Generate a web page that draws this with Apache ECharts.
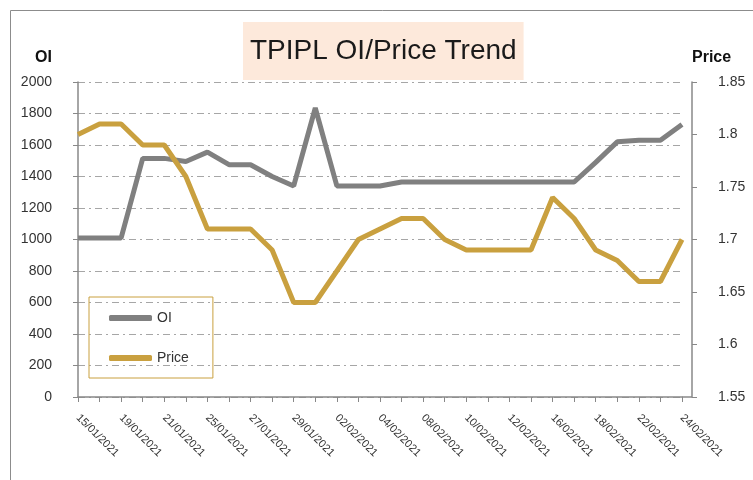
<!DOCTYPE html>
<html>
<head>
<meta charset="utf-8">
<script src="https://cdn.jsdelivr.net/npm/echarts@6/dist/echarts.min.js"></script>
<style>
  html, body { margin: 0; padding: 0; background: #fff; }
  #panel { width: 753px; height: 480px; }
</style>
</head>
<body>
<div id="panel"></div>
<script>
  // trading days
  var dates = [
    "15/01/2021", "18/01/2021", "19/01/2021", "20/01/2021", "21/01/2021", "22/01/2021",
    "25/01/2021", "26/01/2021", "27/01/2021", "28/01/2021", "29/01/2021",
    "01/02/2021", "02/02/2021", "03/02/2021", "04/02/2021", "05/02/2021",
    "08/02/2021", "09/02/2021", "10/02/2021", "11/02/2021", "12/02/2021",
    "15/02/2021", "16/02/2021", "17/02/2021", "18/02/2021", "19/02/2021",
    "22/02/2021", "23/02/2021", "24/02/2021"
  ];
  var oiValues = [
    1010, 1010, 1010, 1515, 1515, 1495, 1555, 1475, 1475, 1400, 1340,
    1835, 1340, 1340, 1340, 1365, 1365, 1365, 1365, 1365, 1365,
    1365, 1365, 1365, 1490, 1620, 1630, 1630, 1730
  ];
  var priceValues = [
    1.80, 1.81, 1.81, 1.79, 1.79, 1.76, 1.71, 1.71, 1.71, 1.69, 1.64,
    1.64, 1.67, 1.70, 1.71, 1.72, 1.72, 1.70, 1.69, 1.69, 1.69,
    1.69, 1.74, 1.72, 1.69, 1.68, 1.66, 1.66, 1.70
  ];

  var panel = echarts.init(document.getElementById("panel"));
  var gridLine = { color: "#a6a6a6", width: 1, type: [7, 4, 2, 4] };
  var option = {
    animation: false,
    textStyle: { fontFamily: "Liberation Sans, Arial, sans-serif" },
    graphic: [{
      type: "rect",
      shape: { x: 10.5, y: 10.5, width: 760, height: 480 },
      style: { fill: "none", stroke: "#8c8c8c", lineWidth: 1 }
    }, {
      // bottom axis runs on to the right axis
      type: "line",
      shape: { x1: 682, y1: 397, x2: 692, y2: 397 },
      style: { stroke: "#888", lineWidth: 1.5 }
    }],
    title: {
      text: "TPIPL OI/Price Trend",
      left: 243,
      top: 22,
      backgroundColor: "#fde9db",
      padding: [15, 7, 15, 7],
      textStyle: { color: "#1a1a1a", fontWeight: "normal", fontSize: 28 }
    },
    legend: {
      left: 89,
      top: 297,
      orient: "vertical",
      borderColor: "#c9a03f",
      borderWidth: 1,
      padding: [14, 24, 13, 20],
      itemWidth: 43,
      itemHeight: 6,
      itemGap: 26,
      icon: "roundRect",
      textStyle: { color: "#333", fontSize: 14 },
      data: ["OI", "Price"]
    },
    grid: { left: 78, right: 71, top: 82, bottom: 83 },
    xAxis: {
      type: "category",
      boundaryGap: false,
      data: dates,
      axisLine: { lineStyle: { color: "#888", width: 1.5 } },
      axisTick: { show: true, interval: 0, length: 5, lineStyle: { color: "#888" } },
      axisLabel: { interval: 1, rotate: -45, color: "#333", fontSize: 11, margin: 19 },
      splitLine: { show: false }
    },
    yAxis: [{
      type: "value",
      name: "OI",
      nameLocation: "end",
      nameGap: 16,
      nameTextStyle: { color: "#111", fontSize: 16, fontWeight: "bold", align: "right", padding: [0, 26, 0, 0] },
      min: 0, max: 2000, interval: 200,
      axisLine: { show: true, lineStyle: { color: "#888", width: 1.5 } },
      axisTick: { show: true, length: 5, lineStyle: { color: "#888" } },
      axisLabel: { color: "#333", fontSize: 14, margin: 26, formatter: function (v) { return String(v); } },
      splitLine: { show: true, lineStyle: gridLine }
    }, {
      type: "value",
      name: "Price",
      offset: 10,
      nameLocation: "end",
      nameGap: 16,
      nameTextStyle: { color: "#111", fontSize: 16, fontWeight: "bold", align: "left", padding: [0, 0, 0, 0] },
      min: 1.55, max: 1.85, interval: 0.05,
      axisLine: { show: true, lineStyle: { color: "#888", width: 1.5 } },
      axisTick: { show: true, length: 5, lineStyle: { color: "#888" } },
      axisLabel: {
        color: "#333", fontSize: 14, margin: 26,
        formatter: function (v) { return String(+v.toFixed(2)); }
      },
      splitLine: { show: false }
    }],
    series: [{
      name: "OI",
      type: "line",
      yAxisIndex: 0,
      data: oiValues,
      symbol: "none",
      lineStyle: { color: "#808080", width: 5 },
      itemStyle: { color: "#808080" }
    }, {
      name: "Price",
      type: "line",
      yAxisIndex: 1,
      data: priceValues,
      symbol: "none",
      lineStyle: { color: "#c9a03f", width: 5 },
      itemStyle: { color: "#c9a03f" }
    }]
  };
  panel.setOption(option, true);
</script>
</body>
</html>
